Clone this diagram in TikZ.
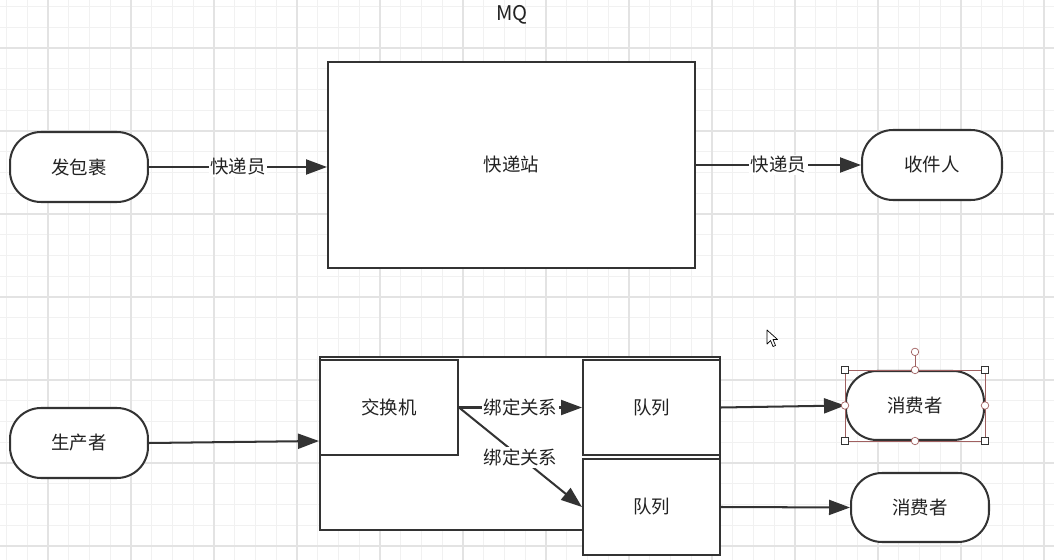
\documentclass[tikz,border=0pt]{standalone}
\usepackage{fontspec}
\newfontfamily\cjk{Noto Sans CJK SC}
\usetikzlibrary{arrows.meta}
\definecolor{xian}{HTML}{333333}
\definecolor{wenzi}{HTML}{222222}
\definecolor{xiaogrid}{HTML}{F1F1F1}
\definecolor{dagrid}{HTML}{E3E3E3}
\definecolor{bianji}{HTML}{A06060}
\begin{document}
\begin{tikzpicture}[x=0.02cm,y=-0.02cm,
    every node/.style={font=\cjk\fontsize{10.5}{12}\selectfont, text=wenzi},
    zhongduan/.style={draw=xian, line width=1.15pt, fill=white, rounded corners=0.62cm, minimum width=2.76cm, minimum height=1.4cm},
    fangkuai/.style={draw=xian, line width=1.15pt, fill=white},
    jiantou/.style={draw=xian, line width=1.15pt, -{Triangle[length=0.42cm,width=0.3cm]}},
    biaoqian/.style={fill=white, inner sep=1pt},
    xuanzhong/.style={draw=bianji, line width=0.4pt},
    kuai/.style={draw=xian, line width=0.4pt, fill=white, minimum size=0.15cm, inner sep=0pt},
    dian/.style={circle, draw=bianji, line width=0.4pt, fill=white, minimum size=0.15cm, inner sep=0pt}]
    \useasboundingbox (0,0) rectangle (1054,560);
    \fill[white] (0,0) rectangle (1054,560);
    \foreach \k in {-2,...,48} \draw[xiaogrid, line width=0.5pt] ({48+20.75*\k},0) -- ({48+20.75*\k},560);
    \foreach \k in {-2,...,24} \draw[xiaogrid, line width=0.5pt] (0,{48+20.75*\k}) -- (1054,{48+20.75*\k});
    \foreach \k in {0,...,12} \draw[dagrid, line width=0.6pt] ({48+83*\k},0) -- ({48+83*\k},560);
    \foreach \k in {0,...,6} \draw[dagrid, line width=0.6pt] (0,{48+83*\k}) -- (1054,{48+83*\k});

    \node[font=\cjk\fontsize{11.5}{13}\selectfont] (biaoti) at (512,15) {MQ};

    \node[zhongduan] (fabao) at (79,167) {发包裹};
    \node[fangkuai, minimum width=7.34cm, minimum height=4.12cm] (kuaidizhan) at (511.5,165) {快递站};
    \node[zhongduan, minimum width=2.8cm] (shoujian) at (932,165) {收件人};
    \draw[jiantou] (fabao.east) -- node[biaoqian]{快递员} (kuaidizhan.west |- fabao.east);
    \draw[jiantou] (kuaidizhan.east |- shoujian.west) -- node[biaoqian]{快递员} (shoujian.west);

    \draw[fangkuai] (320,357) rectangle (720,530);
    \node[zhongduan] (shengchan) at (79,443) {生产者};
    \node[fangkuai, minimum width=2.76cm, minimum height=1.9cm] (jiaohuan) at (389,407.5) {交换机};
    \node[fangkuai, minimum width=2.74cm, minimum height=1.9cm] (duilie1) at (651.5,407.5) {队列};
    \node[fangkuai, minimum width=2.74cm, minimum height=1.92cm] (duilie2) at (651.5,507) {队列};
    \node[zhongduan, minimum height=1.38cm] (xiaofei1) at (915,405.5) {消费者};
    \node[zhongduan, minimum height=1.38cm] (xiaofei2) at (920,507.5) {消费者};

    \draw[jiantou] (shengchan.east) -- (jiaohuan.west |- 0,441);
    \draw[jiantou] (jiaohuan.east) -- node[biaoqian]{绑定关系} (duilie1.west);
    \draw[jiantou] (jiaohuan.east) -- node[biaoqian]{绑定关系} (duilie2.west);
    \draw[jiantou] (duilie1.east) -- (xiaofei1.west);
    \draw[jiantou] (duilie2.east) -- (xiaofei2.west);

    \draw[xuanzhong] (xiaofei1.north west) rectangle (xiaofei1.south east);
    \draw[xuanzhong] (xiaofei1.north) -- ++(0,-14) node[dian, anchor=south] (xuanzhuan) {};
    \foreach \a in {north west, north east, south west, south east} \node[kuai] (jiao-\a) at (xiaofei1.\a) {};
    \foreach \a in {north, south, east, west} \node[dian] (bian-\a) at (xiaofei1.\a) {};

    \draw[black, fill=white, line width=0.4pt, line join=round] (767,330) -- (767,344) -- (770.5,340.5) -- (773,346.5) -- (775.5,345.5) -- (773,339.5) -- (777.5,339.5) -- cycle;
\end{tikzpicture}
\end{document}
